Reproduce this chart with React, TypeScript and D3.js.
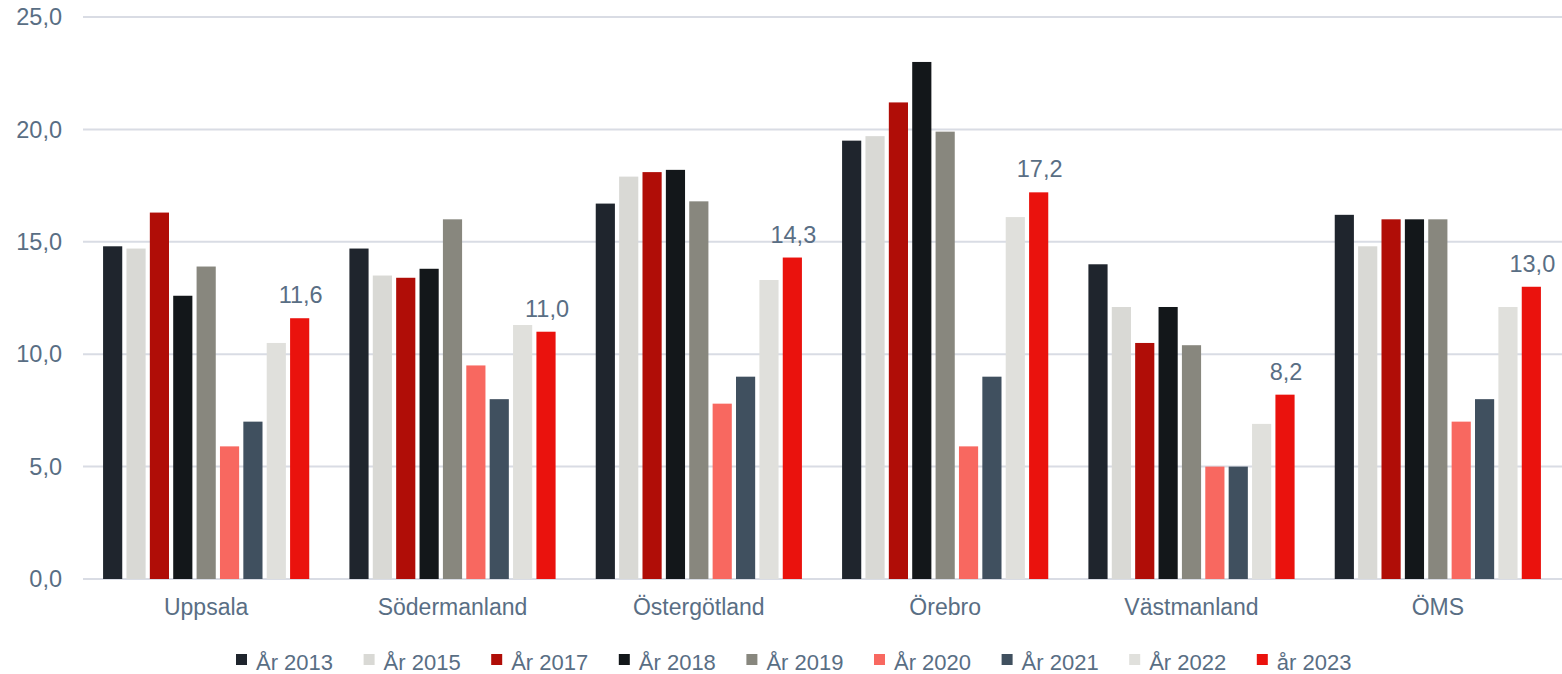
import React from "react";
import * as d3 from "d3";

const categories = ["Uppsala", "Södermanland", "Östergötland", "Örebro", "Västmanland", "ÖMS"];
const seriesNames = ["År 2013", "År 2015", "År 2017", "År 2018", "År 2019", "År 2020", "År 2021", "År 2022", "år 2023"];
const seriesColors = ["#1f252d", "#d9d9d5", "#b00d07", "#13171a", "#88877e", "#f86860", "#40505f", "#e0e0dc", "#ea120d"];

const y2013 = [14.8, 14.7, 16.7, 19.5, 14.0, 16.2];
const y2015 = [14.7, 13.5, 17.9, 19.7, 12.1, 14.8];
const y2017 = [16.3, 13.4, 18.1, 21.2, 10.5, 16.0];
const y2018 = [12.6, 13.8, 18.2, 23.0, 12.1, 16.0];
const y2019 = [13.9, 16.0, 16.8, 19.9, 10.4, 16.0];
const y2020 = [5.9, 9.5, 7.8, 5.9, 5.0, 7.0];
const y2021 = [7.0, 8.0, 9.0, 9.0, 5.0, 8.0];
const y2022 = [10.5, 11.3, 13.3, 16.1, 6.9, 12.1];
const y2023 = [11.6, 11.0, 14.3, 17.2, 8.2, 13.0];
const seriesValues = [y2013, y2015, y2017, y2018, y2019, y2020, y2021, y2022, y2023];
const labeledSeries = [8];

const yTicks = [0, 5, 10, 15, 20, 25];

const W = 1562;
const H = 674;
const TEXT = "#596e84";
const GRID = "#d9dce4";
const FONT = "'Liberation Sans', Arial, sans-serif";

const fmt = (v: number) => v.toFixed(1).replace(".", ",");

export default function App() {
  const x0 = d3.scaleBand<string>().domain(categories).range([83, 1561]).paddingInner(0.163).paddingOuter(0.0815);
  const x1 = d3.scaleBand<string>().domain(seriesNames).range([0, x0.bandwidth()]).paddingInner(0.18).paddingOuter(0);
  const y = d3.scaleLinear().domain([0, 25]).range([579, 17]);

  const legendX = d3.scaleLinear().domain([0, seriesNames.length - 1]).range([236, 236 + 127.6 * 8]);

  return (
    <svg width={W} height={H} style={{ position: "absolute", left: 0, top: 0, display: "block", background: "#fff" }} fontFamily={FONT}>
      {yTicks.map((t) => (
        <g key={t}>
          <line x1={83} x2={W} y1={y(t)} y2={y(t)} stroke={GRID} strokeWidth={2} />
          <text x={62} y={y(t)} dy="0.35em" textAnchor="end" fontSize={23.5} fill={TEXT}>
            {fmt(t)}
          </text>
        </g>
      ))}
      {categories.map((c, ci) => (
        <g key={c} transform={`translate(${x0(c)},0)`}>
          {seriesNames.map((s, si) => {
            const v = seriesValues[si][ci];
            return (
              <rect key={s} x={x1(s)} y={y(v)} width={x1.bandwidth()} height={y(0) - y(v)} fill={seriesColors[si]} />
            );
          })}
          {labeledSeries.map((si) => {
            const v = seriesValues[si][ci];
            return (
              <text key={si} x={(x1(seriesNames[si]) as number) + x1.bandwidth() / 2 + 1} y={y(v) - 15} textAnchor="middle" fontSize={23.5} fill={TEXT}>
                {fmt(v)}
              </text>
            );
          })}
          <text x={x0.bandwidth() / 2} y={615} textAnchor="middle" fontSize={23} fill={TEXT}>
            {c}
          </text>
        </g>
      ))}
      {seriesNames.map((s, si) => (
        <g key={s} transform={`translate(${legendX(si)},0)`}>
          <rect x={0} y={654} width={11} height={11} fill={seriesColors[si]} />
          <text x={20} y={670} fontSize={22} fill={TEXT}>
            {s}
          </text>
        </g>
      ))}
    </svg>
  );
}
